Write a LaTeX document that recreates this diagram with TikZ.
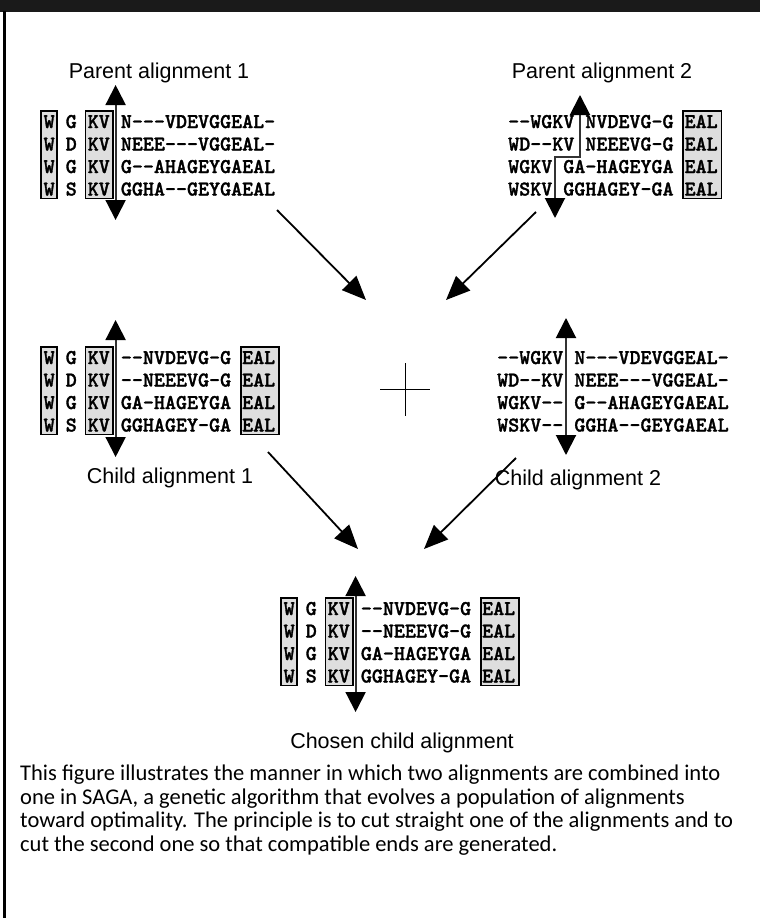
\documentclass[tikz,border=0pt]{standalone}
\usepackage{fontspec}
\setmainfont{Liberation Sans}
\setmonofont{lmmonolt10-bold}[Extension=.otf,FakeBold=1.5]
\newfontfamily\notefont{Carlito}
\usetikzlibrary{arrows.meta}

\definecolor{headgray}{RGB}{26,26,26}
\definecolor{boxgray}{RGB}{222,222,222}
\definecolor{cutgray}{RGB}{51,51,51}

\def\cw{11.1}
\def\rh{22.5}

\tikzset{
  seq/.style={font=\ttfamily\fontsize{21}{22}\selectfont, inner sep=0pt, anchor=base west},
  colbox/.style={draw=black, line width=1.8pt, fill=boxgray},
  cutline/.style={draw=cutgray, line width=2pt,
    {Triangle[width=20pt,length=20pt,color=black]}-{Triangle[width=20pt,length=20pt,color=black]}},
  merge/.style={line width=1.8pt, -{Triangle[width=20pt,length=24pt]}},
  lbl/.style={font=\fontsize{21.5}{26}\selectfont, inner sep=0pt, anchor=base},
  note/.style={font=\notefont\fontsize{22.5}{23.5}\selectfont, align=left, inner sep=0pt, anchor=north west},
}

% box round columns #3..#3+#4-1 of a block at (#1,#2)
\newcommand{\colbox}[4]{%
  \draw[colbox] ({#1+#3*\cw-2.5},{#2-17}) rectangle ({#1+(#3+#4)*\cw+2.5},{#2+3*\rh+3});}

\begin{document}
\begin{tikzpicture}[x=1pt,y=-1pt]
\useasboundingbox (0,0) rectangle (760,921);
\fill[headgray] (0,0) rectangle (760,11.5);
\draw[line width=2.5pt] (4.5,11) -- (4.5,918);

% parent 1
\colbox{43.5}{128}{0}{1}
\colbox{43.5}{128}{4}{2}
\foreach \r/\s in {0/{W G KV N---VDEVGGEAL-},1/{W D KV NEEE---VGGEAL-},
                   2/{W G KV G--AHAGEYGAEAL},3/{W S KV GGHA--GEYGAEAL}}
  \node[seq] (pa\r) at (43.5,{128+\r*\rh}) {\s};
\node[lbl] (palbl) at (159,78) {Parent alignment 1};
\draw[cutline] (115.6,85) -- (115.6,220);

% parent 2
\colbox{508}{128}{16}{3}
\foreach \r/\s in {0/{--WGKV NVDEVG-G EAL},1/{WD--KV NEEEVG-G EAL},
                   2/{WGKV GA-HAGEYGA EAL},3/{WSKV GGHAGEY-GA EAL}}
  \node[seq] (pb\r) at (508,{128+\r*\rh}) {\s};
\node[lbl] (pblbl) at (602,78) {Parent alignment 2};
\draw[cutline] (580,95) -- (580,157) -- (555,157) -- (555,218);

% child 1
\colbox{43.5}{364}{0}{1}
\colbox{43.5}{364}{4}{2}
\colbox{43.5}{364}{18}{3}
\foreach \r/\s in {0/{W G KV --NVDEVG-G EAL},1/{W D KV --NEEEVG-G EAL},
                   2/{W G KV GA-HAGEYGA EAL},3/{W S KV GGHAGEY-GA EAL}}
  \node[seq] (ca\r) at (43.5,{364+\r*\rh}) {\s};
\node[lbl] (calbl) at (170,483) {Child alignment 1};
\draw[cutline] (115.6,320) -- (115.6,457);

% child 2
\foreach \r/\s in {0/{--WGKV N---VDEVGGEAL-},1/{WD--KV NEEE---VGGEAL-},
                   2/{WGKV-- G--AHAGEYGAEAL},3/{WSKV-- GGHA--GEYGAEAL}}
  \node[seq] (cb\r) at (497,{364+\r*\rh}) {\s};
\node[lbl] (cblbl) at (578,485) {Child alignment 2};
\draw[cutline] (566,318) -- (566,455);

\draw[line width=1pt] (380,389) -- (430,389) (405,363) -- (405,416);

% chosen child
\colbox{283.5}{615}{0}{1}
\colbox{283.5}{615}{4}{2}
\colbox{283.5}{615}{18}{3}
\foreach \r/\s in {0/{W G KV --NVDEVG-G EAL},1/{W D KV --NEEEVG-G EAL},
                   2/{W G KV GA-HAGEYGA EAL},3/{W S KV GGHAGEY-GA EAL}}
  \node[seq] (cc\r) at (283.5,{615+\r*\rh}) {\s};
\node[lbl] (cclbl) at (402,748) {Chosen child alignment};
\draw[cutline] (355.6,576) -- (355.6,712);

% merging arrows
\coordinate (paout) at (277,210);
\coordinate (pbout) at (536,212);
\coordinate (mixl) at (366,300);
\coordinate (mixr) at (446,300);
\coordinate (caout) at (268,452);
\coordinate (cbout) at (516,458);
\coordinate (pickl) at (358,549);
\coordinate (pickr) at (424,549);
\draw[merge] (paout) -- (mixl);
\draw[merge] (pbout) -- (mixr);
\draw[merge] (caout) -- (pickl);
\draw[merge] (cbout) -- (pickr);

\node[note] (caption) at (20,765) {This figure illustrates the manner in which two alignments are combined into\\
one in SAGA, a genetic algorithm that evolves a population of alignments\\
toward optimality. The principle is to cut straight one of the alignments and to\\
cut the second one so that compatible ends are generated.};
\end{tikzpicture}
\end{document}
